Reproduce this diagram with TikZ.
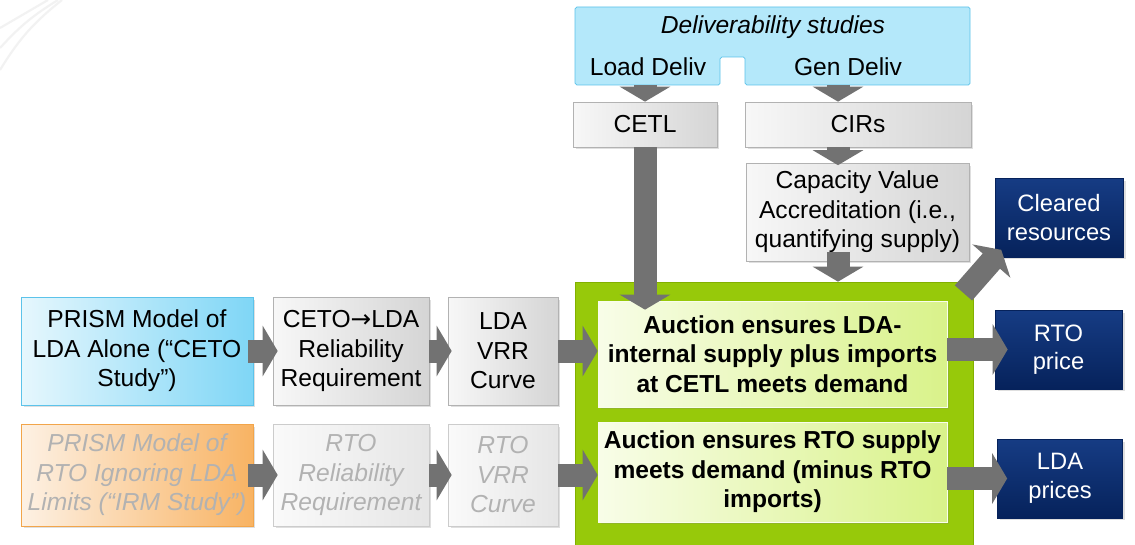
\documentclass[tikz,border=0pt]{standalone}
\usepackage{fontspec}
\setmainfont{Liberation Sans}
\newfontfamily\arrowfont{DejaVu Sans}
\usetikzlibrary{arrows.meta, shadows}

\definecolor{skyleft}{HTML}{E6F7FD}
\definecolor{skyright}{HTML}{7FD6F6}
\definecolor{skyline}{HTML}{5CC3EA}
\definecolor{delivfill}{HTML}{B4E8FA}
\definecolor{orangeleft}{HTML}{FDF1E4}
\definecolor{orangeright}{HTML}{F8B363}
\definecolor{orangeline}{HTML}{F2A54A}
\definecolor{auctiongreen}{HTML}{97C90A}
\definecolor{auctionline}{HTML}{82B000}
\definecolor{innerleft}{HTML}{F8FDE8}
\definecolor{innerright}{HTML}{D9F28A}
\definecolor{navytop}{HTML}{163C84}
\definecolor{navybot}{HTML}{06225B}
\definecolor{arrowgray}{HTML}{727272}

\tikzstyle{box} = [
    rectangle,
    align = center,
    inner sep = 0pt,
    font = \fontsize{14}{16.8}\selectfont,
    drop shadow = {shadow xshift=0.05cm, shadow yshift=-0.05cm, opacity=0.25}
]
\tikzstyle{graybox} = [
    box,
    left color = gray!6,
    right color = gray!33,
    draw = gray!60
]
\tikzstyle{fadebox} = [
    box,
    left color = gray!4,
    right color = gray!20,
    draw = gray!40,
    text = gray!60,
    font = \fontsize{14}{16.8}\selectfont\itshape
]
\tikzstyle{studybox} = [
    box,
    left color = skyleft,
    right color = skyright,
    draw = skyline
]
\tikzstyle{irmbox} = [
    box,
    left color = orangeleft,
    right color = orangeright,
    draw = orangeline,
    text = gray!60,
    font = \fontsize{14}{16.8}\selectfont\itshape
]
\tikzstyle{auction} = [
    box,
    left color = innerleft,
    right color = innerright,
    draw = white!85!innerright,
    font = \fontsize{14}{16.8}\selectfont\bfseries
]
\tikzstyle{result} = [
    box,
    top color = navytop,
    bottom color = navybot,
    draw = navybot,
    text = white,
    font = \fontsize{13.5}{16.2}\selectfont
]
\tikzstyle{fat} = [
    draw = arrowgray,
    line width = 0.46cm,
    -{Triangle[width=1cm, length=0.3cm]}
]

\begin{document}
\begin{tikzpicture}[x=0.02cm, y=-0.02cm]

        \clip (0,0) rectangle (1135,544);
        \fill[white] (0,0) rectangle (1135,544);

        %% Corner lines
        \draw[gray!10, line width=1.2pt] (0,28) -- (48,0);
        \draw[gray!10, line width=1.2pt] (0,48) to[bend left=8] (58,0);
        \draw[gray!10, line width=1.2pt] (0,70) to[bend left=10] (62,0);

        %% Deliverability studies
        \draw[skyline, fill=delivfill, rounded corners=1pt] (575,7) -- (970,7) -- (970,85) -- (745,85) -- (745,57) -- (720,57) -- (720,85) -- (575,85) -- cycle;
        \node (dtitle) [font=\fontsize{14}{16.8}\selectfont\itshape] at (773,27) {Deliverability studies};
        \node (ld) [font=\fontsize{14}{16.8}\selectfont] at (648,67) {Load Deliv};
        \node (gd) [font=\fontsize{14}{16.8}\selectfont] at (848,67) {Gen Deliv};
        \coordinate (ldfoot) at (645,85);
        \coordinate (gdfoot) at (838,85);

        %% Gray boxes at the top
        \node (cetl) [graybox, minimum width=2.88cm, minimum height=0.9cm] at (645,124.5) {CETL};
        \node (cirs) [graybox, minimum width=4.52cm, minimum height=0.9cm] at (858,124.5) {CIRs};
        \node (cva) [graybox, minimum width=4.46cm, minimum height=1.96cm] at (857.5,212) {Capacity Value\\Accreditation (i.e.,\\quantifying supply)};

        %% Auction
        \node (green) [rectangle, fill=auctiongreen, draw=auctionline, minimum width=7.96cm, minimum height=5.6cm] at (774,422) {};
        \node (auc1) [auction, minimum width=6.98cm, minimum height=2.12cm] at (772.5,354) {Auction ensures LDA-\\internal supply plus imports\\at CETL meets demand};
        \node (auc2) [auction, minimum width=6.98cm, minimum height=2.0cm] at (772.5,472) {Auction ensures RTO supply\\meets demand (minus RTO\\imports)};

        %% Left rows
        \node (prism) [studybox, minimum width=4.64cm, minimum height=2.16cm] at (137,351) {PRISM Model of\\LDA Alone (“CETO\\Study”)};
        \node (ceto) [graybox, minimum width=3.12cm, minimum height=2.16cm] at (351,351) {CETO{\arrowfont\char"2192}LDA\\Reliability\\Requirement};
        \node (vrr) [graybox, minimum width=2.2cm, minimum height=2.16cm] at (503,351) {LDA\\VRR\\Curve};
        \node (irm) [irmbox, minimum width=4.64cm, minimum height=2.04cm] at (137,475) {PRISM Model of\\RTO Ignoring LDA\\Limits (“IRM Study”)};
        \node (rtorel) [fadebox, minimum width=3.12cm, minimum height=2.04cm] at (351,475) {RTO\\Reliability\\Requirement};
        \node (rtovrr) [fadebox, minimum width=2.2cm, minimum height=2.04cm] at (503,475) {RTO\\VRR\\Curve};

        %% Results
        \node (cleared) [result, minimum width=2.56cm, minimum height=1.58cm] at (1059,217.5) {Cleared\\resources};
        \node (rto) [result, minimum width=2.54cm, minimum height=1.58cm] at (1058.5,349.5) {RTO\\price};
        \node (lda) [result, minimum width=2.5cm, minimum height=1.58cm] at (1060,478.5) {LDA\\prices};

        %% Arrows
        \draw[fat] (ldfoot) -- (cetl.north -| ldfoot);
        \draw[fat] (gdfoot) -- (cirs.north -| gdfoot);
        \draw[fat, shorten >=-0.05cm] (cirs.south -| gdfoot) -- (cva.north -| gdfoot);
        \draw[fat, shorten <=-0.18cm] (cva.south -| gdfoot) -- (green.north -| gdfoot);
        \draw[fat, shorten >=-0.18cm] (cetl.south) -- (cetl.south |- auc1.north);
        \draw[fat, shorten <=-0.1cm, shorten >=-0.1cm] (prism.east) -- (ceto.west);
        \draw[fat, shorten >=-0.08cm] (ceto.east) -- (vrr.west);
        \draw[fat] (vrr.east) -- (vrr.east -| auc1.west);
        \draw[fat, shorten <=-0.1cm, shorten >=-0.1cm] (irm.east) -- (rtorel.west);
        \draw[fat, shorten >=-0.08cm] (rtorel.east) -- (rtovrr.west);
        \draw[fat] (rtovrr.east) -- (rtovrr.east -| auc2.west);
        \draw[fat, shorten >=-0.26cm] (auc1.east |- rto.west) -- (rto.west);
        \draw[fat, shorten >=-0.2cm] (auc2.east |- lda.west) -- (lda.west);
        \draw[fat, shorten <=-0.3cm, shorten >=-0.2cm] (green.north east) -- (cleared.south west);

\end{tikzpicture}
\end{document}
